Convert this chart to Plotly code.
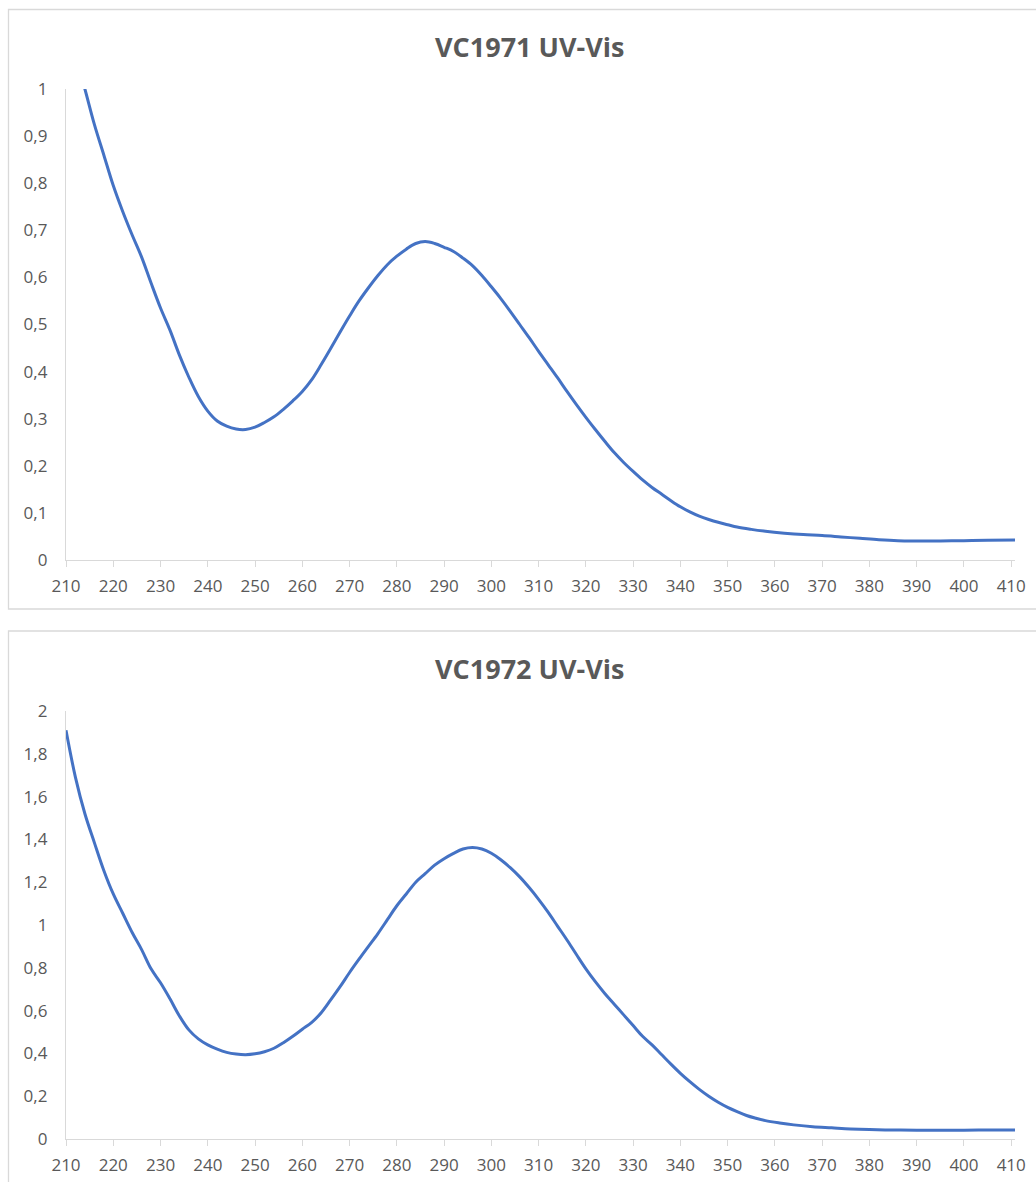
import plotly.graph_objects as go

# VC1971 spectrum (wavelength nm, absorbance)
wl_1971 = [210, 212, 214, 216, 218, 220, 222, 224, 226, 228, 230, 232, 234, 236, 238, 240,
           242, 244, 246, 248, 250, 252, 254, 256, 258, 260, 262, 264, 266, 268, 270, 272,
           274, 276, 278, 280, 282, 284, 286, 288, 290, 292, 294, 296, 298, 300, 302, 304,
           306, 308, 310, 312, 314, 316, 318, 320, 322, 324, 326, 328, 330, 332, 334, 336,
           338, 340, 342, 344, 346, 348, 350, 352, 355, 358, 362, 366, 370, 374, 378, 382,
           386, 390, 395, 400, 405, 410.8]
abs_1971 = [1.15, 1.07, 1.0, 0.925, 0.86, 0.795, 0.74, 0.69, 0.643, 0.588, 0.535, 0.488, 0.435,
            0.388, 0.347, 0.316, 0.295, 0.284, 0.278, 0.277, 0.282, 0.292, 0.304, 0.32, 0.338,
            0.358, 0.383, 0.415, 0.449, 0.484, 0.518, 0.55, 0.578, 0.604, 0.627, 0.645, 0.66,
            0.672, 0.676, 0.672, 0.664, 0.655, 0.641, 0.625, 0.604, 0.58, 0.555, 0.528, 0.5,
            0.472, 0.443, 0.415, 0.387, 0.358, 0.33, 0.303, 0.277, 0.252, 0.228, 0.207, 0.188,
            0.17, 0.154, 0.14, 0.126, 0.113, 0.102, 0.093, 0.086, 0.08, 0.075, 0.07, 0.065,
            0.061, 0.057, 0.054, 0.052, 0.049, 0.046, 0.043, 0.041, 0.0405, 0.0405, 0.041,
            0.042, 0.0425]

# VC1972 spectrum
wl_1972 = [210, 212, 214, 216, 218, 220, 222, 224, 226, 228, 230, 232, 234, 236, 238, 240,
           242, 244, 246, 248, 250, 252, 254, 256, 258, 260, 262, 264, 266, 268, 270, 272,
           274, 276, 278, 280, 282, 284, 286, 288, 290, 292, 294, 296, 298, 300, 302, 304,
           306, 308, 310, 312, 314, 316, 318, 320, 322, 324, 326, 328, 330, 332, 334, 336,
           338, 340, 342, 344, 346, 348, 350, 352, 354, 356, 358, 361, 364, 368, 372, 376,
           380, 385, 390, 400, 405, 410.8]
abs_1972 = [1.91, 1.69, 1.52, 1.385, 1.255, 1.145, 1.055, 0.965, 0.885, 0.795, 0.73, 0.655,
            0.575, 0.51, 0.468, 0.44, 0.42, 0.405, 0.397, 0.394, 0.398, 0.408, 0.424, 0.45,
            0.48, 0.513, 0.545, 0.59, 0.65, 0.712, 0.778, 0.84, 0.9, 0.96, 1.025, 1.09, 1.145,
            1.2, 1.24, 1.28, 1.31, 1.335, 1.355, 1.362, 1.355, 1.335, 1.305, 1.268, 1.225,
            1.175, 1.12, 1.06, 0.995, 0.93, 0.862, 0.795, 0.735, 0.68, 0.63, 0.58, 0.53, 0.48,
            0.44, 0.395, 0.35, 0.307, 0.268, 0.232, 0.2, 0.172, 0.148, 0.128, 0.11, 0.097,
            0.086, 0.075, 0.066, 0.057, 0.052, 0.047, 0.044, 0.042, 0.041, 0.041, 0.042, 0.042]

titles = ["VC1971 UV-Vis", "VC1972 UV-Vis"]
x_ticks = list(range(210, 411, 10))
y1_ticks = [0, 0.1, 0.2, 0.3, 0.4, 0.5, 0.6, 0.7, 0.8, 0.9, 1]
y1_labels = ["0", "0,1", "0,2", "0,3", "0,4", "0,5", "0,6", "0,7", "0,8", "0,9", "1"]
y2_ticks = [0, 0.2, 0.4, 0.6, 0.8, 1, 1.2, 1.4, 1.6, 1.8, 2]
y2_labels = ["0", "0,2", "0,4", "0,6", "0,8", "1", "1,2", "1,4", "1,6", "1,8", "2"]

W, H = 1036, 1182
LINE = "#4472C4"
GRAY = "#595959"
AX = "#d9d9d9"
FONT = "Open Sans, Segoe UI, sans-serif"

fig = go.Figure()
fig.add_trace(go.Scatter(x=wl_1971, y=abs_1971, mode="lines", xaxis="x", yaxis="y",
                         line=dict(color=LINE, width=3, shape="spline", smoothing=1.0),
                         showlegend=False, hoverinfo="x+y"))
fig.add_trace(go.Scatter(x=wl_1972, y=abs_1972, mode="lines", xaxis="x2", yaxis="y2",
                         line=dict(color=LINE, width=3, shape="spline", smoothing=1.0),
                         showlegend=False, hoverinfo="x+y"))

def py(px):
    return 1 - px / H

xdom = [66 / W, 1015 / W]
xcommon = dict(range=[210, 410.8], tickvals=x_ticks, ticktext=[str(t) for t in x_ticks],
               showline=True, linecolor=AX, linewidth=1.3, ticks="outside", ticklen=6,
               tickcolor=AX, tickwidth=1.3, showgrid=False, zeroline=False,
               tickfont=dict(family=FONT, size=17, color=GRAY), domain=xdom,
               ticklabelstandoff=4, automargin=False)
ycommon = dict(showline=True, linecolor=AX, linewidth=1.3, ticks="", showgrid=False,
               zeroline=False, tickfont=dict(family=FONT, size=17, color=GRAY),
               ticklabelstandoff=14, automargin=False)

fig.update_layout(
    template="none",
    width=W, height=H, margin=dict(l=0, r=0, t=0, b=0, pad=0), autosize=False,
    paper_bgcolor="white", plot_bgcolor="white",
    xaxis=dict(anchor="y", **xcommon),
    yaxis=dict(anchor="x", range=[0, 1], tickvals=y1_ticks, ticktext=y1_labels,
               domain=[py(560), py(89)], **ycommon),
    xaxis2=dict(anchor="y2", **xcommon),
    yaxis2=dict(anchor="x2", range=[0, 2], tickvals=y2_ticks, ticktext=y2_labels,
                domain=[py(1139), py(711)], **ycommon),
    shapes=[
        dict(type="rect", xref="paper", yref="paper", x0=8.5 / W, x1=1.02,
             y0=py(609), y1=py(9.5), line=dict(color=AX, width=1.3), fillcolor="rgba(0,0,0,0)",
             layer="below"),
        dict(type="rect", xref="paper", yref="paper", x0=8.5 / W, x1=1.02,
             y0=-0.05, y1=py(631), line=dict(color=AX, width=1.3), fillcolor="rgba(0,0,0,0)",
             layer="below"),
    ],
    annotations=[
        dict(text="<b>" + titles[0] + "</b>", xref="paper", yref="paper", x=529 / W, y=py(46),
             xanchor="center", yanchor="middle", showarrow=False,
             font=dict(family=FONT, size=27, color=GRAY)),
        dict(text="<b>" + titles[1] + "</b>", xref="paper", yref="paper", x=529 / W, y=py(668),
             xanchor="center", yanchor="middle", showarrow=False,
             font=dict(family=FONT, size=27, color=GRAY)),
    ],
)

fig.write_html("out.html", config={"responsive": False, "displayModeBar": False},
               post_script="document.body.style.margin='0';document.body.style.overflow='hidden';")
